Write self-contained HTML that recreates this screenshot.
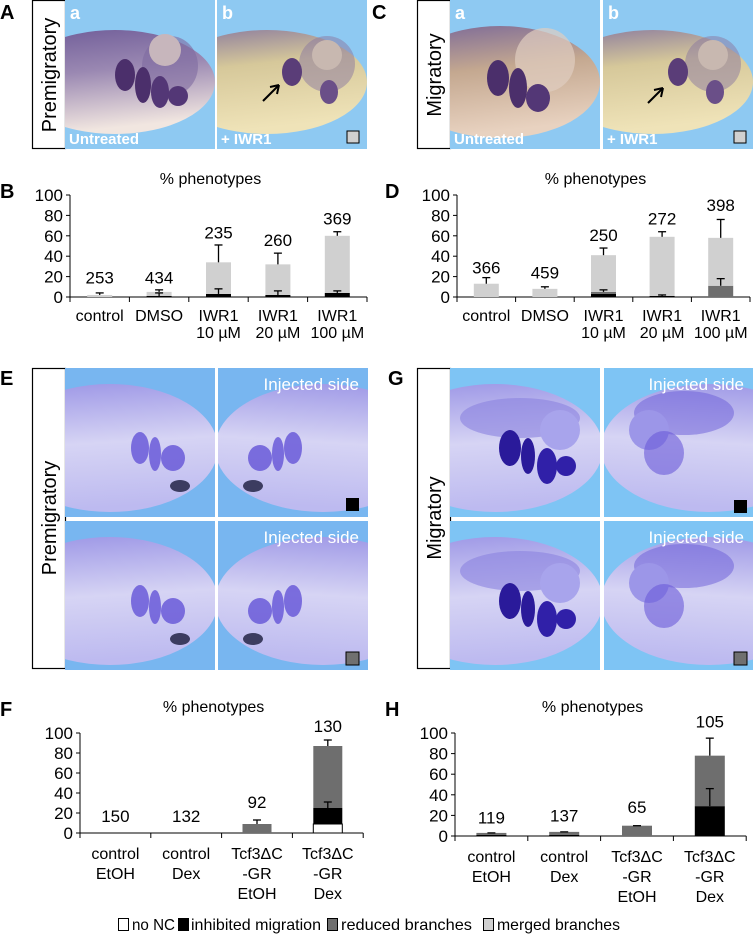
<!DOCTYPE html>
<html><head><meta charset="utf-8">
<style>
html,body{margin:0;padding:0;background:#fff;}
body{width:753px;height:942px;overflow:hidden;position:relative;font-family:"Liberation Sans",Arial,sans-serif;}
svg{position:absolute;left:0;top:0;}
</style></head>
<body>
<svg id="fig" width="753" height="942" viewBox="0 0 753 942" xmlns="http://www.w3.org/2000/svg" font-family="Liberation Sans, Arial, sans-serif">
<defs>
  <linearGradient id="gTopA" x1="0" y1="0" x2="0.2" y2="1">
    <stop offset="0" stop-color="#6f5c98"/><stop offset="0.45" stop-color="#9a88b2"/><stop offset="1" stop-color="#f1e6e0"/>
  </linearGradient>
  <linearGradient id="gTopB" x1="0" y1="0" x2="0.2" y2="1">
    <stop offset="0" stop-color="#8a7a9e"/><stop offset="0.4" stop-color="#d6c89a"/><stop offset="1" stop-color="#efe3b8"/>
  </linearGradient>
  <linearGradient id="gTopC" x1="0" y1="0" x2="0.2" y2="1">
    <stop offset="0" stop-color="#7a6898"/><stop offset="0.45" stop-color="#c4a890"/><stop offset="1" stop-color="#e8d2c0"/>
  </linearGradient>
  <linearGradient id="gBot" x1="0" y1="0" x2="0.1" y2="1">
    <stop offset="0" stop-color="#9c96e6"/><stop offset="0.5" stop-color="#d6d4f4"/><stop offset="1" stop-color="#bdbaf0"/>
  </linearGradient>
  <clipPath id="clipPh"><rect x="0" y="0" width="150" height="149"/></clipPath>
  <g id="embTopA" clip-path="url(#clipPh)">
    <rect width="150" height="149" fill="#8ec9f2"/>
    <ellipse cx="50" cy="82" rx="100" ry="52" fill="url(#gTopA)"/>
    <ellipse cx="105" cy="66" rx="28" ry="30" fill="#7e6aa0" opacity="0.6"/>
    <circle cx="100" cy="50" r="16" fill="#c7b6bc"/>
    <ellipse cx="60" cy="75" rx="10" ry="16" fill="#4b2f6b"/>
    <ellipse cx="78" cy="85" rx="8" ry="18" fill="#4b2f6b"/>
    <ellipse cx="95" cy="92" rx="9" ry="16" fill="#533776"/>
    <ellipse cx="113" cy="96" rx="10" ry="10" fill="#533776"/>
  </g>
  <g id="embTopB" clip-path="url(#clipPh)">
    <rect width="150" height="149" fill="#8ec9f2"/>
    <ellipse cx="50" cy="82" rx="100" ry="52" fill="url(#gTopB)"/>
    <ellipse cx="110" cy="64" rx="28" ry="28" fill="#8a78a0" opacity="0.5"/>
    <circle cx="110" cy="55" r="15" fill="#c8b8b0"/>
    <ellipse cx="75" cy="72" rx="10" ry="14" fill="#5a3d78"/>
    <ellipse cx="112" cy="92" rx="9" ry="12" fill="#6a4f88"/>
  </g>
  <g id="embTopC" clip-path="url(#clipPh)">
    <rect width="150" height="149" fill="#8ec9f2"/>
    <ellipse cx="50" cy="82" rx="100" ry="56" fill="url(#gTopC)"/>
    <ellipse cx="95" cy="60" rx="30" ry="32" fill="#e0cdc0" opacity="0.7"/>
    <ellipse cx="48" cy="78" rx="11" ry="18" fill="#4b2f6b"/>
    <ellipse cx="68" cy="88" rx="9" ry="20" fill="#4b2f6b"/>
    <ellipse cx="88" cy="98" rx="12" ry="14" fill="#533776"/>
  </g>
  <g id="embBot" clip-path="url(#clipPh)">
    <rect width="150" height="149" fill="#78b6f0"/>
    <ellipse cx="45" cy="80" rx="108" ry="64" fill="url(#gBot)"/>
    <ellipse cx="75" cy="80" rx="9" ry="16" fill="#6a5ad8" opacity="0.85"/>
    <ellipse cx="90" cy="86" rx="6" ry="17" fill="#6a5ad8" opacity="0.85"/>
    <ellipse cx="108" cy="90" rx="12" ry="13" fill="#6a5ad8" opacity="0.85"/>
    <ellipse cx="115" cy="118" rx="10" ry="6" fill="#3c3c60"/>
  </g>
  <g id="embBotG" clip-path="url(#clipPh)">
    <rect width="150" height="149" fill="#7ec4f4"/>
    <ellipse cx="45" cy="80" rx="108" ry="64" fill="url(#gBot)"/>
    <ellipse cx="70" cy="50" rx="60" ry="20" fill="#8a82e0" opacity="0.6"/>
    <circle cx="110" cy="62" r="20" fill="#a8a4ec"/>
    <ellipse cx="60" cy="80" rx="11" ry="18" fill="#2a1a9a"/>
    <ellipse cx="78" cy="88" rx="7" ry="18" fill="#2a1a9a"/>
    <ellipse cx="97" cy="98" rx="10" ry="18" fill="#3020a8"/>
    <ellipse cx="116" cy="98" rx="10" ry="10" fill="#3020a8"/>
  </g>
  <g id="embBotG2" clip-path="url(#clipPh)">
    <rect width="150" height="149" fill="#7ec4f4"/>
    <ellipse cx="45" cy="80" rx="108" ry="64" fill="url(#gBot)"/>
    <ellipse cx="70" cy="45" rx="50" ry="22" fill="#6a5cd8" opacity="0.5"/>
    <circle cx="105" cy="62" r="20" fill="#9c96e8"/>
    <ellipse cx="90" cy="85" rx="20" ry="22" fill="#6a5ad8" opacity="0.6"/>
  </g>
</defs>

<!-- Panel labels -->
<g font-weight="bold" font-size="20" fill="#000">
<text x="0" y="19">A</text>
<text x="372" y="19">C</text>
<text x="0" y="198">B</text>
<text x="385" y="198">D</text>
<text x="0" y="385">E</text>
<text x="388" y="385">G</text>
<text x="0" y="716">F</text>
<text x="385" y="716">H</text>
</g>

<!-- Stage label boxes -->
<g>
<rect x="32.5" y="0.5" width="33" height="148" fill="#fff" stroke="#000" stroke-width="1.2"/>
<text transform="translate(56,75) rotate(-90)" text-anchor="middle" font-size="20">Premigratory</text></g>
<g>
<rect x="417.5" y="0.5" width="33" height="148" fill="#fff" stroke="#000" stroke-width="1.2"/>
<text transform="translate(441,75) rotate(-90)" text-anchor="middle" font-size="20">Migratory</text></g>
<g>
<rect x="32.5" y="368.5" width="33" height="300" fill="#fff" stroke="#000" stroke-width="1.2"/>
<text transform="translate(56,518) rotate(-90)" text-anchor="middle" font-size="20">Premigratory</text></g>
<g>
<rect x="417.5" y="368.5" width="33" height="300" fill="#fff" stroke="#000" stroke-width="1.2"/>
<text transform="translate(441,518) rotate(-90)" text-anchor="middle" font-size="20">Migratory</text></g>

<!-- Top photos -->
<g transform="translate(65,0)"><use href="#embTopA"/>
<text x="5" y="19" fill="#fff" font-weight="bold" font-size="18">a</text>
<text x="4" y="144" fill="#fff" font-weight="bold" font-size="15">Untreated</text></g>
<g transform="translate(217,0)"><use href="#embTopB"/>
<text x="5" y="19" fill="#fff" font-weight="bold" font-size="18">b</text>
<text x="4" y="144" fill="#fff" font-weight="bold" font-size="15">+ IWR1</text>
<line x1="46" y1="101" x2="62" y2="85" stroke="#000" stroke-width="2"/><path d="M62,85 l-9,2 m9,-2 l-2,9" stroke="#000" stroke-width="2" fill="none"/>
<rect x="130" y="131" width="12" height="12" fill="#d0d0d0" stroke="#000"/></g>
<g transform="translate(450,0)"><use href="#embTopC"/>
<text x="5" y="19" fill="#fff" font-weight="bold" font-size="18">a</text>
<text x="4" y="144" fill="#fff" font-weight="bold" font-size="15">Untreated</text></g>
<g transform="translate(603,0)"><use href="#embTopB"/>
<text x="5" y="19" fill="#fff" font-weight="bold" font-size="18">b</text>
<text x="4" y="144" fill="#fff" font-weight="bold" font-size="15">+ IWR1</text>
<line x1="45" y1="103" x2="60" y2="88" stroke="#000" stroke-width="2"/><path d="M60,88 l-9,2 m9,-2 l-2,9" stroke="#000" stroke-width="2" fill="none"/>
<rect x="131" y="131" width="12" height="12" fill="#d0d0d0" stroke="#000"/></g>

<!-- Bottom photos E -->
<g transform="translate(65,368)"><use href="#embBot"/></g>
<g><g transform="translate(368,368) scale(-1,1)"><use href="#embBot"/></g>
<text x="359" y="390" text-anchor="end" fill="#fff" font-size="17">Injected side</text>
<rect x="346" y="498" width="13" height="13" fill="#000"/></g>
<g transform="translate(65,521)"><use href="#embBot"/></g>
<g><g transform="translate(368,521) scale(-1,1)"><use href="#embBot"/></g>
<text x="359" y="543" text-anchor="end" fill="#fff" font-size="17">Injected side</text>
<rect x="346" y="652" width="13" height="13" fill="#707070" stroke="#000"/></g>
<!-- G -->
<g transform="translate(450,368)"><use href="#embBotG"/></g>
<g><g transform="translate(754,368) scale(-1,1)"><use href="#embBotG2"/></g>
<text x="744" y="390" text-anchor="end" fill="#fff" font-size="17">Injected side</text>
<rect x="734" y="500" width="13" height="13" fill="#000"/></g>
<g transform="translate(450,521)"><use href="#embBotG"/></g>
<g><g transform="translate(754,521) scale(-1,1)"><use href="#embBotG2"/></g>
<text x="744" y="543" text-anchor="end" fill="#fff" font-size="17">Injected side</text>
<rect x="734" y="652" width="13" height="13" fill="#707070" stroke="#000"/></g>

<g id="charts"></g>

<!-- Legend -->
<g font-size="16">
<g><rect x="118.5" y="918.5" width="10" height="12" fill="#fff" stroke="#000"/><text x="132" y="930" textLength="43" lengthAdjust="spacingAndGlyphs">no NC</text></g>
<g><rect x="178.5" y="918.5" width="10" height="12" fill="#000" stroke="#000"/><text x="191" y="930" textLength="130" lengthAdjust="spacingAndGlyphs">inhibited migration</text></g>
<g><rect x="327.5" y="918.5" width="10" height="12" fill="#6e6e6e" stroke="#000"/><text x="341" y="930" textLength="131" lengthAdjust="spacingAndGlyphs">reduced branches</text></g>
<g><rect x="483.5" y="918.5" width="10" height="12" fill="#d0d0d0" stroke="#000"/><text x="497" y="930" textLength="123" lengthAdjust="spacingAndGlyphs">merged branches</text></g>
</g>
</svg>

<script>
// ---- Chart data ----
const catsB = [["control"],["DMSO"],["IWR1","10 µM"],["IWR1","20 µM"],["IWR1","100 µM"]];
const nB = ["253","434","235","260","369"];
const noNCB = [0,0,0,0,0];
const inhibB = [0,1,3,2,4];
const reducedB = [0,0,0,0,0];
const mergedB = [2,4,31,30,56];
const errLowB = [null,4,8,6,6];
const errTopB = [4,7,51,43,64];
const nYB = [19,19,63,56,77];

const catsD = [["control"],["DMSO"],["IWR1","10 µM"],["IWR1","20 µM"],["IWR1","100 µM"]];
const nD = ["366","459","250","272","398"];
const noNCD = [0,0,0,0,0];
const inhibD = [0,0,3,1,0];
const reducedD = [0,0,2,0,11];
const mergedD = [13,8,36,58,47];
const errLowD = [null,null,7,2,18];
const errTopD = [19,10,48,64,76];
const nYD = [29,24,61,77,90];

const catsF = [["control","EtOH"],["control","Dex"],["Tcf3ΔC","-GR","EtOH"],["Tcf3ΔC","-GR","Dex"]];
const nF = ["150","132","92","130"];
const noNCF = [0,0,0,9];
const inhibF = [0,0,0,16];
const reducedF = [0,0,9,62];
const mergedF = [0,0,0,0];
const errLowF = [null,null,null,31];
const errNoNCF = [null,null,null,16];
const errTopF = [null,null,13,93];
const nYF = [17,17,31,107];

const catsH = [["control","EtOH"],["control","Dex"],["Tcf3ΔC","-GR","EtOH"],["Tcf3ΔC","-GR","Dex"]];
const nH = ["119","137","65","105"];
const noNCH = [0,0,0,0];
const inhibH = [1,1,0,29];
const reducedH = [2,3,10,49];
const mergedH = [0,0,0,0];
const errLowH = [null,null,null,46];
const errTopH = [3,4,10,95];
const nYH = [18,20,28,111];

const ticks = [0,20,40,60,80,100];
const colors = ["#ffffff","#000000","#6e6e6e","#d0d0d0"];
const NS = "http://www.w3.org/2000/svg";
const root = document.getElementById("charts");

function mk(tag, attrs, parent){
  const e = document.createElementNS(NS, tag);
  for (const k in attrs) e.setAttribute(k, attrs[k]);
  parent.appendChild(e);
  return e;
}

function chart(name, cfg, cats, series, errs, nLabels, nY){
  const g = mk("g", {}, root);
  
  
  const yS = v => cfg.y0 - v * cfg.h / 100;
  const xC = i => cfg.x0 + cfg.cw * (i + 0.5);
  const xEnd = cfg.x0 + cfg.cw * cats.length;
  const t = mk("text", {x: cfg.x0 + cfg.cw*cats.length/2 - 8, y: cfg.titleY, "text-anchor":"middle", "font-size":"16"}, g);
  
  
  t.textContent = "% phenotypes";
  const ya = mk("g", {}, g);
  
  
  mk("line", {x1:cfg.x0, y1:yS(100), x2:cfg.x0, y2:yS(0), stroke:"#000", "stroke-width":"1"}, ya);
  ticks.forEach(v => {
    mk("line", {x1:cfg.x0-4, y1:yS(v), x2:cfg.x0, y2:yS(v), stroke:"#000"}, ya);
    const tl = mk("text", {x:cfg.x0-7, y:yS(v)+6, "text-anchor":"end", "font-size":"17"}, ya);
    
    
    tl.textContent = v;
  });
  const xa = mk("g", {}, g);
  
  
  mk("line", {x1:cfg.x0, y1:yS(0), x2:xEnd, y2:yS(0), stroke:"#000"}, xa);
  for (let i = 0; i <= cats.length; i++) {
    const x = cfg.x0 + cfg.cw * i;
    mk("line", {x1:x, y1:yS(0), x2:x, y2:yS(0)+5, stroke:"#000"}, xa);
  }
  cats.forEach((lines, i) => {
    lines.forEach((s, j) => {
      const tl = mk("text", {x:xC(i), y:yS(0)+cfg.lblOff + j*cfg.lineH, "text-anchor":"middle", "font-size":"16"}, xa);
      
      
      tl.textContent = s;
    });
  });
  cats.forEach((c, i) => {
    let base = 0;
    series.forEach((arr, s) => {
      const v = arr[i];
      if (v > 0) {
        const r = mk("rect", {x:xC(i)-cfg.bw/2, y:yS(base+v), width:cfg.bw, height:yS(base)-yS(base+v), fill:colors[s]}, g);
        
        
        if (s === 0) { r.setAttribute("stroke", "#000"); r.setAttribute("stroke-width", "1"); }
      }
      base += v;
    });
  });
  errs.forEach(pair => {
    const [arr, startArr] = pair;
    arr.forEach((e, i) => {
      if (e === null) return;
      const st = startArr[i];
      const eg = mk("g", {stroke:"#000", "stroke-width":"1.3"}, g);
      
      
      mk("line", {x1:xC(i), y1:yS(st), x2:xC(i), y2:yS(e)}, eg);
      mk("line", {x1:xC(i)-4, y1:yS(e), x2:xC(i)+4, y2:yS(e)}, eg);
    });
  });
  nLabels.forEach((s, i) => {
    const tl = mk("text", {x:xC(i), y:yS(nY[i])+6, "text-anchor":"middle", "font-size":"17"}, g);
    
    
    tl.textContent = s;
  });
}

function sum(...arrs){ return arrs[0].map((_, i) => arrs.reduce((a, b) => a + b[i], 0)); }

chart("chart-b", {x0:70, cw:59.4, y0:297, h:102, bw:25, titleY:184, lblOff:24, lineH:17},
  catsB, [noNCB, inhibB, reducedB, mergedB],
  [[errLowB, sum(noNCB, inhibB)], [errTopB, sum(noNCB, inhibB, reducedB, mergedB)]], nB, nYB);
chart("chart-d", {x0:457, cw:58.6, y0:297, h:102, bw:25, titleY:184, lblOff:24, lineH:17},
  catsD, [noNCD, inhibD, reducedD, mergedD],
  [[errLowD, sum(noNCD, inhibD, reducedD)], [errTopD, sum(noNCD, inhibD, reducedD, mergedD)]], nD, nYD);
chart("chart-f", {x0:80, cw:70.8, y0:833, h:100, bw:29, titleY:712, lblOff:26, lineH:20},
  catsF, [noNCF, inhibF, reducedF, mergedF],
  [[errNoNCF, noNCF], [errLowF, sum(noNCF, inhibF)], [errTopF, sum(noNCF, inhibF, reducedF, mergedF)]], nF, nYF);
chart("chart-h", {x0:455, cw:72.8, y0:836, h:103, bw:30, titleY:712, lblOff:26, lineH:20},
  catsH, [noNCH, inhibH, reducedH, mergedH],
  [[errLowH, sum(noNCH, inhibH)], [errTopH, sum(noNCH, inhibH, reducedH, mergedH)]], nH, nYH);
</script>
</body></html>
